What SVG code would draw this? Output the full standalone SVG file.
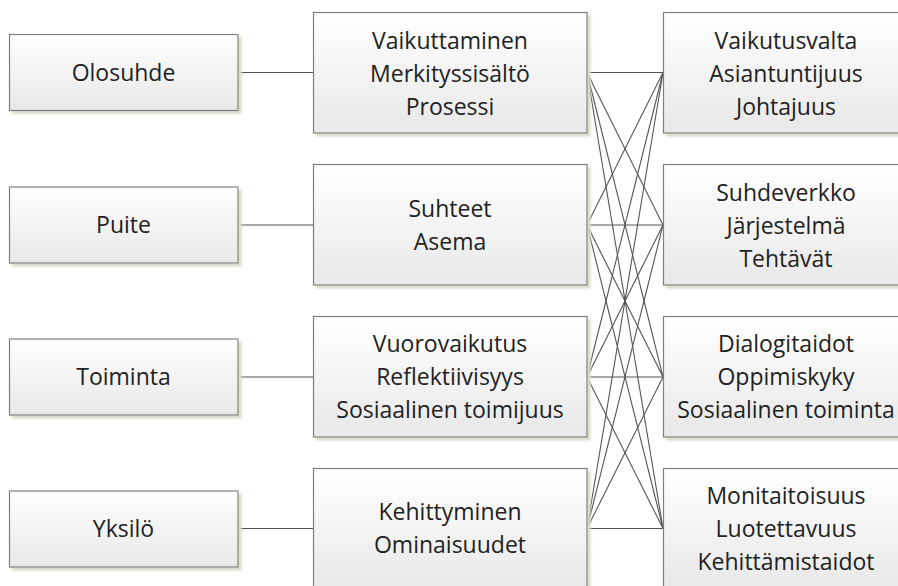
<svg xmlns="http://www.w3.org/2000/svg" width="898" height="586" viewBox="0 0 898 586">
  <style>
    .box { fill: url(#boxFill); stroke: #7f7f7f; stroke-width: 1.2; filter: url(#shadow); }
    .lbl { font-family: "Open Sans", "Liberation Sans", sans-serif; font-size: 23px; fill: #222222; text-anchor: middle; }
    .link { stroke: #555555; stroke-width: 1.1; fill: none; }
  </style>
  <defs>
    <linearGradient id="boxFill" x1="0" y1="0" x2="0" y2="1">
      <stop offset="0" stop-color="#ffffff"/>
      <stop offset="1" stop-color="#e8e8e8"/>
    </linearGradient>
    <filter id="shadow" x="-5%" y="-5%" width="115%" height="125%">
      <feOffset in="SourceAlpha" dx="3" dy="3" result="off"/>
      <feGaussianBlur in="off" stdDeviation="1.2" result="blur"/>
      <feFlood flood-color="#dcdccb"/>
      <feComposite in2="blur" operator="in" result="sh"/>
      <feMerge>
        <feMergeNode in="sh"/>
        <feMergeNode in="SourceGraphic"/>
      </feMerge>
    </filter>
  </defs>

  <rect width="898" height="586" fill="#ffffff"/>

  <!-- connectors -->
  <g id="connectors" class="link">
    <!-- left column to middle column -->
    <line x1="238" y1="72.5" x2="313" y2="72.5"/>
    <line x1="238" y1="225" x2="313" y2="225"/>
    <line x1="238" y1="377" x2="313" y2="377"/>
    <line x1="238" y1="528.5" x2="313" y2="528.5"/>
    <!-- every middle box to every right box -->
    <line x1="587" y1="72.5" x2="663" y2="72.5"/>
    <line x1="587" y1="72.5" x2="663" y2="225"/>
    <line x1="587" y1="72.5" x2="663" y2="377"/>
    <line x1="587" y1="72.5" x2="663" y2="528.5"/>
    <line x1="587" y1="225" x2="663" y2="72.5"/>
    <line x1="587" y1="225" x2="663" y2="225"/>
    <line x1="587" y1="225" x2="663" y2="377"/>
    <line x1="587" y1="225" x2="663" y2="528.5"/>
    <line x1="587" y1="377" x2="663" y2="72.5"/>
    <line x1="587" y1="377" x2="663" y2="225"/>
    <line x1="587" y1="377" x2="663" y2="377"/>
    <line x1="587" y1="377" x2="663" y2="528.5"/>
    <line x1="587" y1="528.5" x2="663" y2="72.5"/>
    <line x1="587" y1="528.5" x2="663" y2="225"/>
    <line x1="587" y1="528.5" x2="663" y2="377"/>
    <line x1="587" y1="528.5" x2="663" y2="528.5"/>
  </g>

  <!-- left column -->
  <g id="olosuhde">
    <rect class="box" x="9.5" y="34.5" width="228.5" height="76"/>
    <text class="lbl" x="123.5" y="80.5">Olosuhde</text>
  </g>
  <g id="puite">
    <rect class="box" x="9.5" y="187" width="228.5" height="76"/>
    <text class="lbl" x="123.5" y="233">Puite</text>
  </g>
  <g id="toiminta">
    <rect class="box" x="9.5" y="339" width="228.5" height="76"/>
    <text class="lbl" x="123.5" y="385">Toiminta</text>
  </g>
  <g id="yksilo">
    <rect class="box" x="9.5" y="491" width="228.5" height="76"/>
    <text class="lbl" x="123.5" y="537">Yksilö</text>
  </g>

  <!-- middle column -->
  <g id="vaikuttaminen">
    <rect class="box" x="313.5" y="12.5" width="273.5" height="120.5"/>
    <text class="lbl" x="450" y="48.5">Vaikuttaminen</text>
    <text class="lbl" x="450" y="81.5">Merkityssisältö</text>
    <text class="lbl" x="450" y="114.5">Prosessi</text>
  </g>
  <g id="suhteet">
    <rect class="box" x="313.5" y="164.5" width="273.5" height="120.5"/>
    <text class="lbl" x="450" y="216.5">Suhteet</text>
    <text class="lbl" x="450" y="249.5">Asema</text>
  </g>
  <g id="vuorovaikutus">
    <rect class="box" x="313.5" y="316.5" width="273.5" height="120.5"/>
    <text class="lbl" x="450" y="352">Vuorovaikutus</text>
    <text class="lbl" x="450" y="385">Reflektiivisyys</text>
    <text class="lbl" x="450" y="418">Sosiaalinen toimijuus</text>
  </g>
  <g id="kehittyminen">
    <rect class="box" x="313.5" y="468.5" width="273.5" height="120.5"/>
    <text class="lbl" x="450" y="520">Kehittyminen</text>
    <text class="lbl" x="450" y="553">Ominaisuudet</text>
  </g>

  <!-- right column -->
  <g id="vaikutusvalta">
    <rect class="box" x="663.5" y="12.5" width="246" height="120.5"/>
    <text class="lbl" x="786" y="48.5">Vaikutusvalta</text>
    <text class="lbl" x="786" y="81.5">Asiantuntijuus</text>
    <text class="lbl" x="786" y="114.5">Johtajuus</text>
  </g>
  <g id="suhdeverkko">
    <rect class="box" x="663.5" y="164.5" width="246" height="120.5"/>
    <text class="lbl" x="786" y="200.5">Suhdeverkko</text>
    <text class="lbl" x="786" y="233.5">Järjestelmä</text>
    <text class="lbl" x="786" y="266.5">Tehtävät</text>
  </g>
  <g id="dialogitaidot">
    <rect class="box" x="663.5" y="316.5" width="246" height="120.5"/>
    <text class="lbl" x="786" y="352">Dialogitaidot</text>
    <text class="lbl" x="786" y="385">Oppimiskyky</text>
    <text class="lbl" x="786" y="418">Sosiaalinen toiminta</text>
  </g>
  <g id="monitaitoisuus">
    <rect class="box" x="663.5" y="468.5" width="246" height="120.5"/>
    <text class="lbl" x="786" y="504">Monitaitoisuus</text>
    <text class="lbl" x="786" y="537">Luotettavuus</text>
    <text class="lbl" x="786" y="570">Kehittämistaidot</text>
  </g>
</svg>
